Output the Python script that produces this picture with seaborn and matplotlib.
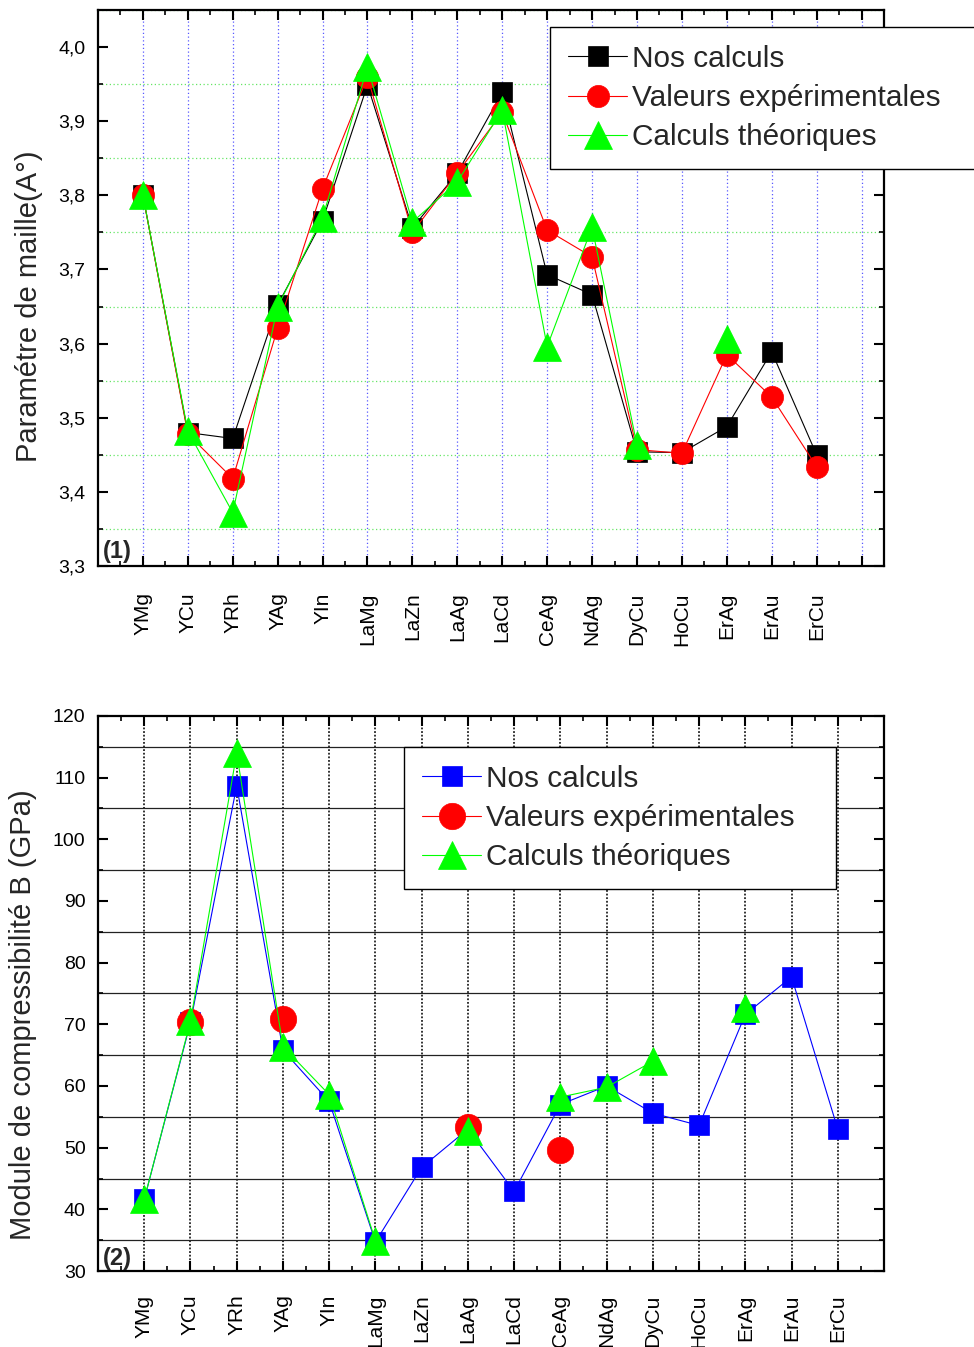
import numpy as np
import pandas as pd
import matplotlib
matplotlib.use("Agg")
import matplotlib.pyplot as plt
from matplotlib.lines import Line2D
from matplotlib.ticker import MultipleLocator
import seaborn as sns

nan = np.nan

# ---------------- data ----------------
categories = ["YMg", "YCu", "YRh", "YAg", "YIn", "LaMg", "LaZn", "LaAg", "LaCd",
              "CeAg", "NdAg", "DyCu", "HoCu", "ErAg", "ErAu", "ErCu"]
series_names = ["Nos calculs", "Valeurs expérimentales", "Calculs théoriques"]

# Panel (1): lattice parameter (A°)
a_nos = [3.800, 3.480, 3.472, 3.652, 3.766, 3.949, 3.756, 3.830, 3.939, 3.693,
         3.666, 3.454, 3.453, 3.488, 3.589, 3.450]
a_exp = [3.800, 3.478, 3.418, 3.621, 3.809, 3.960, 3.750, 3.830, 3.912, 3.753,
         3.717, 3.457, 3.452, 3.585, 3.528, 3.434]
a_theo = [3.800, 3.482, 3.372, 3.650, 3.770, 3.973, 3.764, 3.818, 3.915, 3.596,
          3.757, 3.463, nan, 3.606, nan, nan]

# Panel (2): bulk modulus B (GPa)
B_nos = [41.6, 70.3, 108.7, 65.8, 57.5, 34.7, 46.8, 53.0, 42.9, 57.0,
         60.0, 55.6, 53.6, 71.6, 77.7, 53.0]
B_exp = [nan, 70.3, nan, 70.8, nan, nan, nan, 53.3, nan, 49.7,
         nan, nan, nan, nan, nan, nan]
B_theo = [41.6, 70.5, 114.0, 66.4, 58.6, 34.9, nan, 52.7, nan, 58.2,
          59.8, 64.0, nan, 72.7, nan, nan]

ytick_labels_1 = ["3,3", "3,4", "3,5", "3,6", "3,7", "3,8", "3,9", "4,0"]
ytick_labels_2 = ["30", "40", "50", "60", "70", "80", "90", "100", "110", "120"]

# ---------------- style ----------------
sns.set_style("ticks")
plt.rcParams["font.family"] = ["Liberation Sans", "DejaVu Sans"]

W, H = 974, 1347
fig = plt.figure(figsize=(W / 100, H / 100), dpi=100)
ax1 = fig.add_axes([98 / W, 1 - 566 / H, 786 / W, 556 / H])
ax2 = fig.add_axes([98 / W, 1 - 1271 / H, 786 / W, 555 / H])

x_pos = np.arange(1, len(categories) + 1)


def draw_series(ax, values, color, marker, ms, z):
    y = np.asarray(values, dtype=float)
    seg = np.cumsum(np.isnan(y))
    df = pd.DataFrame({"x": x_pos, "y": y, "seg": seg}).dropna()
    sns.lineplot(data=df, x="x", y="y", units="seg", estimator=None, sort=False,
                 color=color, marker=marker, markersize=ms,
                 markeredgecolor=color, markeredgewidth=0.5,
                 linewidth=0.8, ax=ax, zorder=z, legend=False)


def style_axes(ax):
    for s in ax.spines.values():
        s.set_linewidth(1.6)
        s.set_color("black")
    ax.tick_params(which="major", direction="in", length=7.5, width=1.5,
                   top=True, right=True, colors="black")
    ax.tick_params(which="minor", direction="in", length=3.5, width=1.2,
                   top=True, right=True, colors="black")
    ax.tick_params(axis="y", labelsize=14, pad=9)
    ax.xaxis.set_minor_locator(MultipleLocator(0.5))
    ax.set_axisbelow(True)


def add_legend(handles, x0, y_top, y_bot, width):
    leg = fig.legend(handles=handles, labels=series_names, loc="upper left",
                     bbox_to_anchor=(x0 / W, 1 - y_bot / H, width / W, (y_bot - y_top) / H),
                     mode="expand", fontsize=21.4, frameon=True, fancybox=False,
                     edgecolor="black", framealpha=1, borderpad=0.6,
                     labelspacing=0.38, handlelength=2.0, handletextpad=0.15,
                     borderaxespad=0)
    leg.get_frame().set_linewidth(1.0)
    return leg


# ---------------- panel 1 ----------------
c1 = ["#000000", "#FF0000", "#00FF00"]
m1 = [("s", 15), ("o", 16), ("^", 19.5)]
for vals, col, (mk, ms), z in zip([a_nos, a_exp, a_theo], c1, m1, [3, 4, 5]):
    draw_series(ax1, vals, col, mk, ms, z)

ax1.set_xlim(0, 17.5)
ax1.set_ylim(3.3, 4.05)
ax1.set_xticks(np.arange(1, len(categories) + 2), labels=categories + [""],
               rotation=90, fontsize=15)
ax1.set_yticks([float(t.replace(",", ".")) for t in ytick_labels_1], labels=ytick_labels_1)
ax1.yaxis.set_minor_locator(MultipleLocator(0.05))
style_axes(ax1)
ax1.tick_params(axis="x", pad=19)
ax1.grid(axis="x", which="major", color="#3030FF", linestyle=(0, (1, 2)), linewidth=0.9, alpha=0.8)
ax1.grid(axis="y", which="minor", color="#40E040", linestyle=(0, (1, 2)), linewidth=0.9, alpha=0.8)
ax1.set_xlabel("")
ax1.set_ylabel("Paramétre de maille(A°)", fontsize=21)
ax1.yaxis.set_label_coords(-0.070, 0.468)
ax1.text(0.006, 0.006, "(1)", transform=ax1.transAxes, fontsize=17,
         fontweight="bold", ha="left", va="bottom")

h1 = [Line2D([], [], color=col, marker=mk, markersize=ms, markeredgecolor=col,
             markeredgewidth=0.5, linewidth=0.8) for col, (mk, ms) in zip(c1, m1)]
add_legend(h1, 550, 27, 160, 431)

# ---------------- panel 2 ----------------
c2 = ["#0000FF", "#FF0000", "#00FF00"]
m2 = [("s", 14), ("o", 19), ("^", 19.5)]
for vals, col, (mk, ms), z in zip([B_nos, B_exp, B_theo], c2, m2, [3, 4, 5]):
    draw_series(ax2, vals, col, mk, ms, z)

ax2.set_xlim(0, 17)
ax2.set_ylim(30, 120)
ax2.set_xticks(x_pos, labels=categories, rotation=90, fontsize=15)
ax2.set_yticks([float(t) for t in ytick_labels_2], labels=ytick_labels_2)
ax2.yaxis.set_minor_locator(MultipleLocator(5))
style_axes(ax2)
ax2.tick_params(axis="x", pad=17)
ax2.grid(axis="x", which="major", color="#222222", linestyle=(0, (1, 1)), linewidth=1.3)
ax2.grid(axis="y", which="minor", color="#222222", linestyle="-", linewidth=0.9)
ax2.set_xlabel("")
ax2.set_ylabel("Module de compressibilité B (GPa)", fontsize=21)
ax2.yaxis.set_label_coords(-0.078, 0.461)
ax2.text(0.006, 0.002, "(2)", transform=ax2.transAxes, fontsize=17,
         fontweight="bold", ha="left", va="bottom")

h2 = [Line2D([], [], color=col, marker=mk, markersize=ms, markeredgecolor=col,
             markeredgewidth=0.5, linewidth=0.8) for col, (mk, ms) in zip(c2, m2)]
add_legend(h2, 404, 747, 880, 432)

fig.savefig("out.png", dpi=100)
